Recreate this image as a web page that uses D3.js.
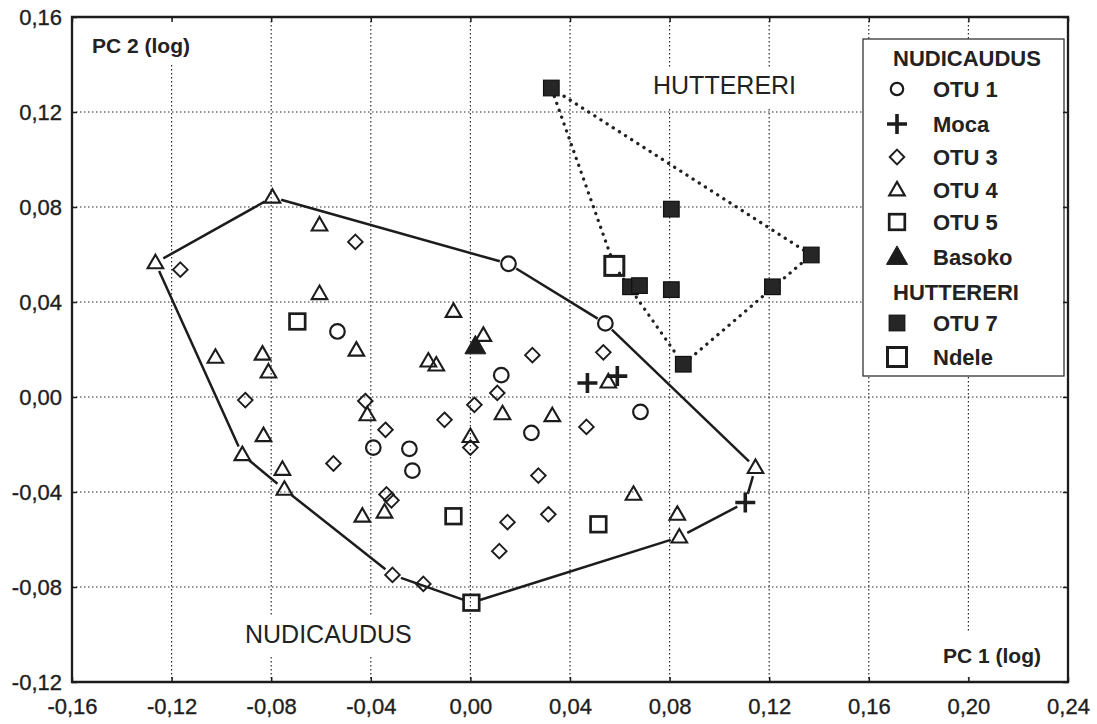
<!DOCTYPE html>
<html>
<head>
<meta charset="utf-8">
<script src="https://cdn.jsdelivr.net/npm/d3@7"></script>
<style>
  body { margin: 0; background: #fff; }
  svg { display: block; font-family: Arial, "Liberation Sans", sans-serif; }
</style>
</head>
<body>
<svg width="1097" height="724"></svg>
<script>
// PC1 / PC2 scores
const otu1 = [
  [0.0153, 0.0561], [0.0542, 0.0310], [-0.0534, 0.0276], [0.0124, 0.0092], [0.0683, -0.0063],
  [0.0245, -0.0151], [-0.0390, -0.0213], [-0.0245, -0.0218], [-0.0233, -0.0310]
];
const moca = [[0.0470, 0.0059], [0.0590, 0.0088], [0.1104, -0.0444]];
const otu3 = [
  [-0.0462, 0.0653], [-0.1165, 0.0536], [-0.0904, -0.0013], [-0.0422, -0.0017], [-0.0341, -0.0138],
  [-0.0550, -0.0280], [-0.0104, -0.0096], [-0.0337, -0.0410], [-0.0317, -0.0435], [-0.0313, -0.0749],
  [-0.0189, -0.0787], [0.0249, 0.0176], [0.0534, 0.0188], [0.0108, 0.0017], [0.0016, -0.0033],
  [0.0466, -0.0126], [0.0000, -0.0213], [0.0273, -0.0331], [0.0313, -0.0494], [0.0149, -0.0527],
  [0.0116, -0.0649]
];
const otu4 = [
  [-0.0795, 0.0841], [-0.1265, 0.0565], [-0.0606, 0.0724], [-0.0606, 0.0435], [-0.0068, 0.0360],
  [-0.0458, 0.0197], [-0.1024, 0.0167], [-0.0835, 0.0180], [-0.0811, 0.0105], [-0.0169, 0.0151],
  [-0.0137, 0.0134], [0.0052, 0.0259], [0.0129, -0.0071], [0.0329, -0.0079], [0.0554, 0.0063],
  [0.0000, -0.0167], [0.1145, -0.0297], [-0.0414, -0.0075], [-0.0831, -0.0163], [-0.0916, -0.0243],
  [-0.0755, -0.0305], [-0.0747, -0.0389], [-0.0434, -0.0502], [-0.0345, -0.0485], [0.0655, -0.0410],
  [0.0831, -0.0494], [0.0839, -0.0590]
];
const otu5 = [[-0.0695, 0.0318], [-0.0068, -0.0502], [0.0514, -0.0536], [0.0004, -0.0866]];
const basoko = [[0.0020, 0.0213]];
const otu7 = [
  [0.0325, 0.1301], [0.0807, 0.0791], [0.0643, 0.0464], [0.0679, 0.0469], [0.0807, 0.0452],
  [0.1213, 0.0464], [0.0855, 0.0138], [0.1369, 0.0598]
];
const ndele = [[0.0578, 0.0552]];

const xTicks = [-0.16, -0.12, -0.08, -0.04, 0, 0.04, 0.08, 0.12, 0.16, 0.20, 0.24];
const yTicks = [-0.12, -0.08, -0.04, 0, 0.04, 0.08, 0.12, 0.16];

const legendLabels = ['NUDICAUDUS', 'OTU 1', 'Moca', 'OTU 3', 'OTU 4', 'OTU 5', 'Basoko', 'HUTTERERI', 'OTU 7', 'Ndele'];
const legendSymbols = [null, 'circle', 'plus', 'diamond', 'triangle', 'square', 'filledTriangle', null, 'filledSquare', 'bigSquare'];

const ink = '#1c1c1c';
const svg = d3.select('svg');
const pl = 72, pr = 1068, pt = 17, pb = 682;

const x = d3.scaleLinear().domain([-0.16, 0.24]).range([pl, pr]);
const y = d3.scaleLinear().domain([-0.12, 0.16]).range([pb, pt]);

const fmt = d3.formatLocale({ decimal: ',', thousands: '.', grouping: [3], currency: ['', ''], minus: '-' }).format('.2f');

// dotted grid
const grid = svg.append('g').attr('stroke', '#2a2a2a').attr('stroke-width', 1.2).attr('stroke-dasharray', '1.5 2.5');
grid.selectAll('.gx').data(xTicks.slice(1, -1)).join('line')
  .attr('x1', d => x(d)).attr('x2', d => x(d)).attr('y1', pt).attr('y2', pb);
grid.selectAll('.gy').data(yTicks.slice(1, -1)).join('line')
  .attr('y1', d => y(d)).attr('y2', d => y(d)).attr('x1', pl).attr('x2', pr);

// white boxes behind in-plot labels (they interrupt the grid)
const boxes = [[86, 20, 118, 44], [645, 67, 160, 40], [235, 617, 188, 40], [935, 633, 122, 42]];
svg.append('g').selectAll('rect').data(boxes).join('rect')
  .attr('x', d => d[0]).attr('y', d => d[1]).attr('width', d => d[2]).attr('height', d => d[3])
  .attr('fill', '#fff');

// convex hull drawn as segments that stop short of the markers
function hullSegments(pts, gap) {
  const hull = d3.polygonHull(pts.map(p => [x(p[0]), y(p[1])]));
  return hull.map((a, i) => {
    const b = hull[(i + 1) % hull.length];
    const dx = b[0] - a[0], dy = b[1] - a[1];
    const len = Math.hypot(dx, dy);
    const ux = dx / len, uy = dy / len;
    return [a[0] + ux * gap, a[1] + uy * gap, b[0] - ux * gap, b[1] - uy * gap];
  });
}

const nudi = [].concat(otu1, moca, otu3, otu4, otu5, basoko);
const hutt = [].concat(otu7, ndele);

svg.append('g').selectAll('line').data(hullSegments(nudi, 9)).join('line')
  .attr('x1', d => d[0]).attr('y1', d => d[1]).attr('x2', d => d[2]).attr('y2', d => d[3])
  .attr('stroke', ink).attr('stroke-width', 2.5);

svg.append('g').selectAll('line').data(hullSegments(hutt, 9)).join('line')
  .attr('x1', d => d[0]).attr('y1', d => d[1]).attr('x2', d => d[2]).attr('y2', d => d[3])
  .attr('stroke', '#222').attr('stroke-width', 3.3).attr('stroke-linecap', 'round')
  .attr('stroke-dasharray', '0.1 7.2');

// marker shapes
function drawSym(g, type, k) {
  k = k || 1;
  if (type === 'circle') {
    g.append('circle').attr('r', 7.3 * k).attr('fill', 'none').attr('stroke', ink).attr('stroke-width', 2.2);
  } else if (type === 'plus') {
    const a = 10 * k;
    g.append('path').attr('d', `M${-a},0H${a}M0,${-a}V${a}`).attr('stroke', ink).attr('stroke-width', 3.6);
  } else if (type === 'diamond') {
    const a = 7.3 * k;
    g.append('path').attr('d', `M0,${-a}L${a},0L0,${a}L${-a},0Z`).attr('fill', 'none').attr('stroke', ink).attr('stroke-width', 1.9);
  } else if (type === 'triangle') {
    const w = 7.8 * k, h = 13.5 * k;
    g.append('path').attr('d', `M0,${-h * 0.6}L${w},${h * 0.4}L${-w},${h * 0.4}Z`).attr('fill', 'none').attr('stroke', ink).attr('stroke-width', 2.1);
  } else if (type === 'square') {
    const a = 7.8 * k;
    g.append('rect').attr('x', -a).attr('y', -a).attr('width', 2 * a).attr('height', 2 * a)
      .attr('fill', 'none').attr('stroke', ink).attr('stroke-width', 2.7);
  } else if (type === 'bigSquare') {
    const a = 9.5 * k;
    g.append('rect').attr('x', -a).attr('y', -a).attr('width', 2 * a).attr('height', 2 * a)
      .attr('fill', 'none').attr('stroke', ink).attr('stroke-width', 3);
  } else if (type === 'filledSquare') {
    const a = 7.8 * k;
    g.append('rect').attr('x', -a).attr('y', -a).attr('width', 2 * a).attr('height', 2 * a)
      .attr('fill', '#262626').attr('stroke', '#111').attr('stroke-width', 1.2);
  } else if (type === 'filledTriangle') {
    const w = 10.5 * k, h = 18.5 * k;
    g.append('path').attr('d', `M0,${-h * 0.6}L${w},${h * 0.4}L${-w},${h * 0.4}Z`).attr('fill', ink).attr('stroke', ink).attr('stroke-width', 1);
  }
}

const series = [
  [otu4, 'triangle'], [otu3, 'diamond'], [otu1, 'circle'], [otu5, 'square'],
  [moca, 'plus'], [basoko, 'filledTriangle'], [ndele, 'bigSquare'], [otu7, 'filledSquare']
];
const marks = svg.append('g');
series.forEach(([data, type]) => {
  marks.append('g').selectAll('g').data(data).join('g')
    .attr('transform', d => `translate(${x(d[0])},${y(d[1])})`)
    .each(function () { drawSym(d3.select(this), type); });
});

// in-plot text
svg.append('text').attr('x', 92).attr('y', 53).attr('font-size', 21).attr('font-weight', 'bold').attr('fill', '#222').text('PC 2 (log)');
svg.append('text').attr('x', 943).attr('y', 663).attr('font-size', 21).attr('font-weight', 'bold').attr('fill', '#222').text('PC 1 (log)');
svg.append('text').attr('x', 653).attr('y', 94).attr('font-size', 25).attr('fill', '#222').text('HUTTERERI');
svg.append('text').attr('x', 245).attr('y', 643).attr('font-size', 25).attr('fill', '#222').text('NUDICAUDUS');

// legend
const lg = svg.append('g').attr('transform', 'translate(863,39)');
lg.append('rect').attr('width', 201).attr('height', 337).attr('fill', '#fff').attr('stroke', '#333').attr('stroke-width', 1.3);
const rowY = [19, 50, 85, 118, 151, 183, 218, 253, 284, 318];
legendLabels.forEach((lab, i) => {
  const row = lg.append('g').attr('transform', `translate(0,${rowY[i]})`);
  if (legendSymbols[i]) {
    const s = row.append('g').attr('transform', 'translate(34,0)');
    drawSym(s, legendSymbols[i], legendSymbols[i] === 'circle' ? 0.85 : 1);
  }
  row.append('text').attr('x', legendSymbols[i] ? 70 : 30).attr('dy', '0.36em')
    .attr('font-size', 22).attr('font-weight', 'bold').attr('fill', '#222').text(lab);
});

// axes with inward ticks
const axisStyle = g => {
  g.select('.domain').remove();
  g.selectAll('.tick line').attr('stroke', ink).attr('stroke-width', 1.5);
  g.selectAll('text').attr('fill', '#1e1e1e').attr('font-size', 22)
    .attr('stroke', '#1e1e1e').attr('stroke-width', 0.35)
    .attr('font-family', 'Arial, "Liberation Sans", sans-serif');
};
svg.append('g').attr('transform', `translate(0,${pb})`)
  .call(d3.axisBottom(x).tickValues(xTicks).tickFormat(fmt).tickSize(-5).tickPadding(16)).call(axisStyle);
svg.append('g').attr('transform', `translate(${pl},0)`)
  .call(d3.axisLeft(y).tickValues(yTicks).tickFormat(fmt).tickSize(-5).tickPadding(10)).call(axisStyle);
svg.append('g').attr('transform', `translate(0,${pt})`)
  .call(d3.axisTop(x).tickValues(xTicks).tickFormat('').tickSize(-5)).call(axisStyle);
svg.append('g').attr('transform', `translate(${pr},0)`)
  .call(d3.axisRight(y).tickValues(yTicks).tickFormat('').tickSize(-5)).call(axisStyle);

// frame
svg.append('path')
  .attr('d', `M${pl},${pt}H${pr}V${pb}H${pl}Z`)
  .attr('fill', 'none').attr('stroke', ink).attr('stroke-width', 2.3);
</script>
</body>
</html>
